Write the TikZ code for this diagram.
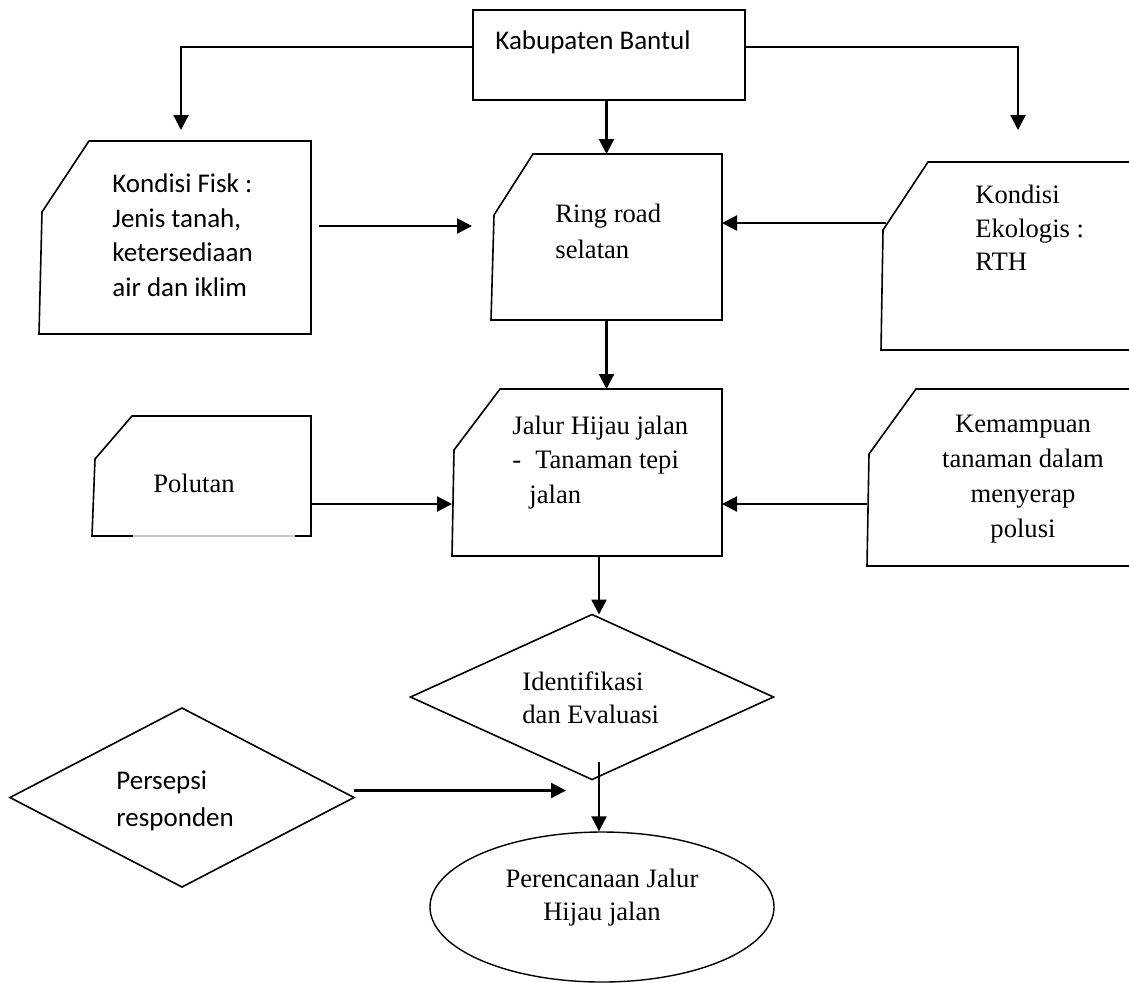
\documentclass[tikz,border=0pt]{standalone}
\usepackage{fontspec}
\setmainfont{Liberation Serif}
\newfontfamily\sansf{Carlito}
\usetikzlibrary{arrows.meta,shapes.geometric,calc}
\begin{document}
\begin{tikzpicture}[x=0.5pt,y=-0.5pt,
  frame/.style={draw=black,line width=0.8pt,line join=miter},
  area/.style={draw=none,inner sep=0pt,outer sep=0pt},
  arr/.style={line width=1.1pt,-{Triangle[length=7.5pt,width=7.5pt]}},
  serift/.style={inner sep=0pt,font=\fontsize{13.3pt}{#1}\selectfont},
  serift/.default=17pt,
  sanst/.style={inner sep=0pt,font=\sansf\fontsize{13.5pt}{#1}\selectfont},
  sanst/.default=17pt]
\useasboundingbox (0,0) rectangle (1129,982);

% ---- box areas ----
\node[area,draw,line width=0.8pt,minimum width=136pt,minimum height=45pt] (kab) at (609,55) {};
\node[area,minimum width=136pt,minimum height=96.5pt] (fisk) at (175,237.5) {};
\node[area,minimum width=115.5pt,minimum height=83pt] (ring) at (606.5,237) {};
\node[area,minimum width=124pt,minimum height=94pt] (eko) at (1005,256) {};
\node[area,minimum width=109.5pt,minimum height=60pt] (pol) at (201.5,476) {};
\node[area,minimum width=135pt,minimum height=83.5pt] (jal) at (587,472.5) {};
\node[area,minimum width=131pt,minimum height=88.5pt] (kem) at (998,477.5) {};
\node[area,minimum width=181.5pt,minimum height=82.5pt] (id) at (592,697) {};
\node[area,minimum width=172pt,minimum height=89.5pt] (per) at (182,797.5) {};
\node[ellipse,draw,line width=0.7pt,inner sep=0pt,minimum width=172pt,minimum height=75pt] (pe) at (602,907) {};

% ---- shapes ----
\draw[frame] ([xshift=25pt]fisk.north west) -- (fisk.north east) -- (fisk.south east) -- (fisk.south west) -- ([xshift=1.5pt,yshift=-35.5pt]fisk.north west) -- cycle;
\draw[frame] ([xshift=21pt]ring.north west) -- (ring.north east) -- (ring.south east) -- (ring.south west) -- ([xshift=1.5pt,yshift=-30.5pt]ring.north west) -- cycle;
\draw[frame] (eko.north east) -- ([xshift=23.5pt]eko.north west) -- ([xshift=1pt,yshift=-34pt]eko.north west) -- (eko.south west) -- (eko.south east);
\draw[frame] ([xshift=20.5pt]pol.south west) -- (pol.south west) -- ([xshift=1.5pt,yshift=-21.5pt]pol.north west) -- ([xshift=20pt]pol.north west) -- (pol.north east) -- (pol.south east) -- ([xshift=-8pt]pol.south east);
\draw[draw=gray!45,line width=0.6pt] ([xshift=20.5pt]pol.south west) -- ([xshift=-8pt]pol.south east);
\draw[frame] ([xshift=24pt]jal.north west) -- (jal.north east) -- (jal.south east) -- (jal.south west) -- ([xshift=1pt,yshift=-30.5pt]jal.north west) -- cycle;
\draw[frame] (kem.north east) -- ([xshift=24.5pt]kem.north west) -- ([xshift=1pt,yshift=-32.5pt]kem.north west) -- (kem.south west) -- (kem.south east);
\draw[frame] (id.north) -- (id.east) -- (id.south) -- (id.west) -- cycle;
\draw[frame] (per.north) -- (per.east) -- (per.south) -- (per.west) -- cycle;

% ---- texts ----
\node[sanst,anchor=west] (kabt) at (495,42) {Kabupaten Bantul};
\node[sanst=17.25pt,anchor=west,align=left] (fiskt) at (112,235) {Kondisi Fisk :\\Jenis tanah,\\ketersediaan\\air dan iklim};
\node[serift=18pt,anchor=west,align=left] (ringt) at (555,231) {Ring road\\selatan};
\node[serift=16.75pt,anchor=west,align=left] (ekot) at (975,228) {Kondisi\\Ekologis :\\RTH};
\node[serift] (polt) at (194,483) {Polutan};
\node[serift=17.25pt,anchor=west,align=left] (jalt) at (512,462.5) {Jalur Hijau jalan\\-\hspace{7pt}Tanaman tepi\\\hspace*{8.5pt}jalan};
\node[serift=17.5pt,align=center] (kemt) at (1023,479.5) {Kemampuan\\tanaman dalam\\menyerap\\polusi};
\node[serift=16.5pt,anchor=west,align=left] (idt) at (522,698) {Identifikasi\\dan Evaluasi};
\node[sanst=18.5pt,anchor=west,align=left] (pert) at (116,801) {Persepsi\\responden};
\node[serift=16.5pt,align=center] (pet) at (602,898) {Perencanaan Jalur\\Hijau jalan};

% ---- connectors ----
\coordinate (f1) at (319,226);
\coordinate (f2) at (472,226);
\coordinate (e1) at (886,223);
\coordinate (k1) at (867,504);
\coordinate (i1) at (599,762);
\coordinate (p1) at (566,790.5);
\draw[arr] ([yshift=4pt]kab.west) -| ([xshift=3pt,yshift=5.5pt]fisk.north);
\draw[arr] ([yshift=4pt]kab.east) -| ([xshift=6.5pt,yshift=16pt]eko.north);
\draw[arr] (kab.south -| ring.north) -- (ring.north);
\draw[arr] (f1) -- (f2);
\draw[arr] (e1) -- (e1 -| ring.east);
\draw[arr] (ring.south) -- (ring.south |- jal.north);
\draw[arr] ([yshift=-14pt]pol.east) -- ([yshift=-14pt]pol.east -| jal.west);
\draw[arr] (k1) -- (k1 -| jal.east);
\draw[arr] ([xshift=6pt]jal.south) -- ([xshift=6pt]jal.south |- id.north);
\draw[arr] (i1) -- (i1 |- pe.north);
\draw[arr] ([yshift=3.5pt]per.east) -- (p1);
\end{tikzpicture}
\end{document}
